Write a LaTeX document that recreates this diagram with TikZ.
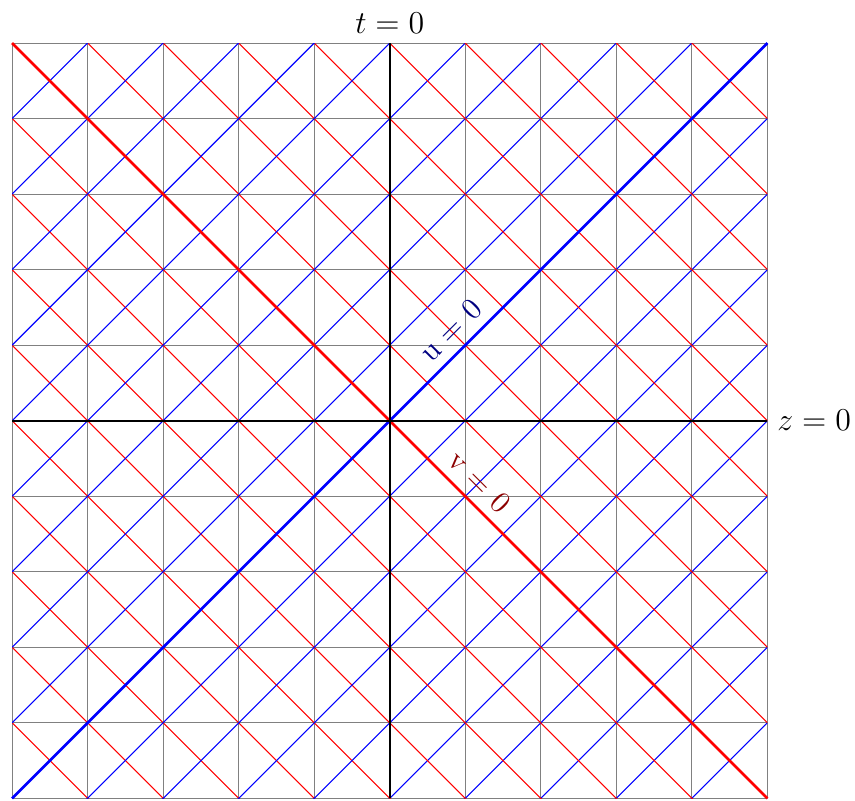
\documentclass[tikz,border=0pt]{standalone}
\usepackage{tikz}

\tikzset{
  lightcone/.style={line width=0.4pt},
  nullaxis/.style={line width=1pt},
  axislabel/.style={font=\fontsize{13}{15}\selectfont},
  nulllabel/.style={font=\fontsize{11.5}{14}\selectfont},
}

\begin{document}
\begin{tikzpicture}
\useasboundingbox (-5.16,-5.03) rectangle (6.16,5.57);

% Grid
\draw[gray, line width=0.4pt] (-5,-5) grid (5,5);

% Null lines
\begin{scope}
\clip (-5,-5) rectangle (5,5);
\foreach \k in {-10,...,10} {
  \draw[lightcone, blue] (-5,-5+\k) -- (5,5+\k);
  \draw[lightcone, red] (-5,5+\k) -- (5,-5+\k);
}
\end{scope}

% u = 0 and v = 0
\draw[nullaxis, blue] (-5,-5) -- (5,5)
  node[pos=0.6, above, sloped, text=blue!50!black, nulllabel] (ulabel) {u = 0};
\draw[nullaxis, red] (-5,5) -- (5,-5)
  node[pos=0.6, above, sloped, text=red!55!black, nulllabel] (vlabel) {v = 0};

% Axes
\draw[black, line width=0.9pt] (-5,0) -- (5,0) node[right, axislabel] (zlabel) {$z=0$};
\draw[black, line width=0.9pt] (0,-5) -- (0,5) node[above, axislabel] (tlabel) {$t=0$};
\end{tikzpicture}
\end{document}
